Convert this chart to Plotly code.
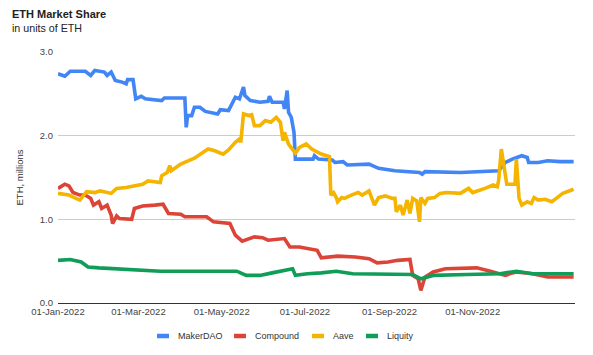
import plotly.graph_objects as go

# ---------------- data (ETH, millions) ----------------
maker_dates = ["2022-01-01","2022-01-06","2022-01-10","2022-01-21","2022-01-25","2022-01-28","2022-02-04",
               "2022-02-06","2022-02-09","2022-02-12","2022-02-17","2022-02-20","2022-02-21","2022-02-25",
               "2022-02-27","2022-03-03","2022-03-06","2022-03-18","2022-03-20","2022-04-04","2022-04-05",
               "2022-04-06","2022-04-09","2022-04-11","2022-04-15","2022-04-19","2022-04-28","2022-04-30",
               "2022-05-06","2022-05-08","2022-05-11","2022-05-14","2022-05-17","2022-05-18","2022-05-22",
               "2022-05-29","2022-06-04","2022-06-05","2022-06-07","2022-06-15","2022-06-16","2022-06-18",
               "2022-06-19","2022-06-21","2022-06-23","2022-06-24","2022-07-07","2022-07-08","2022-07-11",
               "2022-07-21","2022-07-23","2022-07-29","2022-08-01","2022-08-17","2022-08-24","2022-09-05",
               "2022-09-23","2022-09-25","2022-09-27","2022-10-23","2022-11-20","2022-11-25","2022-11-30",
               "2022-12-07","2022-12-11","2022-12-12","2022-12-19","2022-12-26","2023-01-04","2023-01-14"]
maker_vals = [2.74,2.71,2.77,2.77,2.72,2.78,2.76,
              2.72,2.76,2.66,2.64,2.62,2.67,2.67,
              2.44,2.47,2.44,2.42,2.45,2.45,2.10,
              2.24,2.24,2.34,2.34,2.29,2.26,2.31,
              2.30,2.37,2.46,2.44,2.58,2.48,2.42,
              2.40,2.41,2.47,2.40,2.40,2.32,2.54,
              2.28,2.22,2.04,1.72,1.72,1.76,1.72,
              1.71,1.68,1.69,1.65,1.66,1.61,1.58,
              1.56,1.54,1.57,1.56,1.58,1.68,1.72,
              1.76,1.74,1.68,1.68,1.70,1.69,1.69]

compound_dates = ["2022-01-01","2022-01-06","2022-01-09","2022-01-12","2022-01-17","2022-01-21","2022-01-25",
                  "2022-01-27","2022-01-31","2022-02-02","2022-02-06","2022-02-09","2022-02-10","2022-02-13",
                  "2022-02-15","2022-02-24","2022-02-26","2022-03-04","2022-03-13","2022-03-19","2022-03-23",
                  "2022-04-01","2022-04-04","2022-04-20","2022-04-25","2022-05-07","2022-05-11","2022-05-16",
                  "2022-05-25","2022-05-31","2022-06-04","2022-06-16","2022-06-20","2022-06-27","2022-07-10",
                  "2022-07-13","2022-07-25","2022-08-07","2022-08-17","2022-08-23","2022-08-31","2022-09-07",
                  "2022-09-16","2022-09-18","2022-09-22","2022-09-24","2022-09-27","2022-10-03","2022-10-12",
                  "2022-11-04","2022-11-14","2022-11-25","2022-11-30","2022-12-03","2022-12-15","2022-12-26",
                  "2023-01-14"]
compound_vals = [1.37,1.42,1.40,1.32,1.29,1.29,1.25,
                 1.17,1.21,1.13,1.17,1.05,0.95,1.04,
                 1.01,1.00,1.13,1.16,1.17,1.18,1.07,
                 1.06,1.03,1.03,0.97,0.95,0.81,0.74,
                 0.79,0.78,0.75,0.77,0.67,0.67,0.63,
                 0.54,0.56,0.55,0.53,0.48,0.49,0.51,
                 0.52,0.33,0.29,0.15,0.31,0.37,0.41,
                 0.42,0.38,0.33,0.36,0.37,0.35,0.31,
                 0.31]

aave_dates = ["2022-01-01","2022-01-09","2022-01-17","2022-01-22","2022-01-28","2022-02-01","2022-02-09",
              "2022-02-13","2022-02-20","2022-02-26","2022-03-04","2022-03-08","2022-03-17","2022-03-18",
              "2022-03-22","2022-03-24","2022-03-25","2022-04-01","2022-04-11","2022-04-21","2022-04-26",
              "2022-05-02","2022-05-06","2022-05-11","2022-05-14","2022-05-15","2022-05-17","2022-05-21",
              "2022-05-23","2022-05-25","2022-05-29","2022-06-02","2022-06-06","2022-06-10","2022-06-13",
              "2022-06-15","2022-06-16","2022-06-19","2022-06-22","2022-06-24","2022-06-27","2022-07-02",
              "2022-07-06","2022-07-10","2022-07-13","2022-07-17","2022-07-19","2022-07-20","2022-07-22",
              "2022-07-24","2022-07-25","2022-07-28","2022-07-30","2022-08-04","2022-08-09","2022-08-12",
              "2022-08-17","2022-08-21","2022-08-24","2022-08-29","2022-09-03","2022-09-05","2022-09-06",
              "2022-09-09","2022-09-11","2022-09-14","2022-09-16","2022-09-18","2022-09-21","2022-09-23",
              "2022-09-24","2022-09-27","2022-09-29","2022-10-04","2022-10-08","2022-10-13","2022-10-23",
              "2022-10-29","2022-11-01","2022-11-10","2022-11-16","2022-11-19","2022-11-20","2022-11-22",
              "2022-11-24","2022-11-26","2022-12-02","2022-12-03","2022-12-05","2022-12-07","2022-12-11",
              "2022-12-14","2022-12-16","2022-12-19","2022-12-24","2022-12-29","2023-01-02","2023-01-06",
              "2023-01-14"]
aave_vals = [1.31,1.29,1.23,1.33,1.32,1.34,1.31,
             1.37,1.38,1.40,1.42,1.46,1.44,1.52,
             1.56,1.64,1.58,1.66,1.73,1.84,1.82,
             1.78,1.83,1.92,1.96,1.92,2.26,2.24,
             2.25,2.12,2.12,2.18,2.16,2.22,2.16,
             1.94,2.04,1.90,1.84,1.79,1.86,1.90,
             1.84,1.80,1.78,1.76,1.75,1.29,1.32,
             1.26,1.21,1.26,1.25,1.29,1.32,1.29,
             1.34,1.17,1.26,1.28,1.25,1.25,1.09,
             1.17,1.05,1.23,1.07,1.25,1.22,0.97,
             1.26,1.19,1.25,1.26,1.31,1.32,1.31,
             1.37,1.32,1.37,1.41,1.39,1.46,1.84,
             1.64,1.42,1.42,1.72,1.25,1.17,1.21,
             1.19,1.26,1.23,1.24,1.21,1.26,1.31,
             1.36]

liquity_dates = ["2022-01-01","2022-01-10","2022-01-18","2022-01-23","2022-01-31","2022-02-20","2022-03-17",
                 "2022-04-22","2022-05-12","2022-05-19","2022-05-29","2022-06-07","2022-06-18","2022-06-22",
                 "2022-06-24","2022-07-03","2022-07-13","2022-07-24","2022-08-05","2022-09-18","2022-09-24",
                 "2022-10-03","2022-10-28","2022-11-21","2022-12-03","2022-12-15","2023-01-14"]
liquity_vals = [0.51,0.52,0.49,0.43,0.42,0.40,0.38,
                0.38,0.38,0.33,0.33,0.36,0.39,0.41,
                0.33,0.35,0.36,0.38,0.35,0.34,0.29,
                0.33,0.34,0.35,0.38,0.35,0.35]

series_names = ["MakerDAO", "Compound", "Aave", "Liquity"]
series_colors = ["#4285F4", "#DB4437", "#F4B400", "#0F9D58"]

tick_dates = ["2022-01-01", "2022-03-01", "2022-05-01", "2022-07-01", "2022-09-01", "2022-11-01"]
tick_labels = ["01-Jan-2022", "01-Mar-2022", "01-May-2022", "01-Jul-2022", "01-Sep-2022", "01-Nov-2022"]

FONT = "Liberation Sans, Arial, sans-serif"

fig = go.Figure()
all_series = [(maker_dates, maker_vals), (compound_dates, compound_vals),
              (aave_dates, aave_vals), (liquity_dates, liquity_vals)]
for (d, v), name, col in zip(all_series, series_names, series_colors):
    fig.add_trace(go.Scatter(x=d, y=v, mode="lines", name=name, showlegend=False,
                             line=dict(color=col, width=3.6), hoverinfo="x+y+name"))

W, H = 593, 355
ML, MR, MT, MB = 58, 18, 52, 52
ph = H - MT - MB
pw = W - ML - MR

def px_x(px):
    return (px - ML) / pw

def px_y(py):
    return (H - MB - py) / ph

# custom legend (short thick swatches like the original)
legend_swatch_px = [157, 234, 312, 366]
legend_y_px = 336
shapes = []
annotations = []
for name, col, sx in zip(series_names, series_colors, legend_swatch_px):
    shapes.append(dict(type="line", xref="paper", yref="paper",
                       x0=px_x(sx), x1=px_x(sx + 12), y0=px_y(legend_y_px), y1=px_y(legend_y_px),
                       line=dict(color=col, width=4.5)))
    annotations.append(dict(text=name, xref="paper", yref="paper", x=px_x(sx + 19), xanchor="left",
                            y=px_y(legend_y_px), yanchor="middle", showarrow=False,
                            font=dict(size=9, color="#333", family=FONT)))

annotations += [
    dict(text="<b>ETH Market Share</b>", xref="paper", yref="paper",
         x=px_x(10), xanchor="left", y=px_y(13.7), yanchor="middle",
         showarrow=False, font=dict(size=11, color="#222", family=FONT)),
    dict(text="in units of ETH", xref="paper", yref="paper",
         x=px_x(10), xanchor="left", y=px_y(27.5), yanchor="middle",
         showarrow=False, font=dict(size=10.7, color="#222", family=FONT)),
]

fig.update_layout(
    width=W, height=H,
    margin=dict(l=ML, r=MR, t=MT, b=MB, autoexpand=False),
    showlegend=False,
    paper_bgcolor="white", plot_bgcolor="white",
    font=dict(family=FONT, size=10, color="#444"),
    xaxis=dict(type="date", range=["2022-01-01", "2023-01-15"],
               tickvals=tick_dates, ticktext=tick_labels, automargin=False,
               showgrid=False, showline=True, linecolor="#333", linewidth=1,
               ticks="", tickfont=dict(size=9.5, color="#444"), zeroline=False),
    yaxis=dict(range=[0, 3], dtick=1, tickformat=".1f", automargin=False,
               showgrid=True, gridcolor="#cccccc", gridwidth=1, zeroline=False,
               ticks="", tickfont=dict(size=9.5, color="#444"), ticklabelstandoff=4,
               title=dict(text="ETH, millions", font=dict(size=9.5, color="#333"), standoff=14)),
    shapes=shapes,
    annotations=annotations,
)

fig.write_html("out.html",
               config={"displayModeBar": False},
               post_script="document.body.style.margin='0';document.body.style.padding='0';")
